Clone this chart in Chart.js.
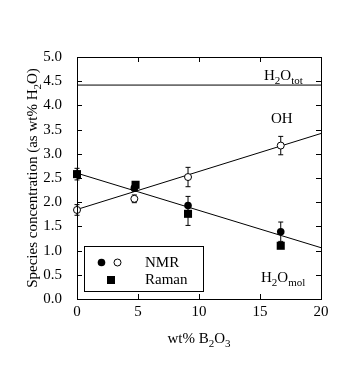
<!DOCTYPE html>
<html>
<head>
<meta charset="utf-8">
<script src="https://cdn.jsdelivr.net/npm/chart.js@4.4.0/dist/chart.umd.min.js"></script>
<style>
    html, body { margin: 0; padding: 0; background: #fff; }
</style>
</head>
<body>
<canvas id="grafico" width="361" height="374"></canvas>
<script>
// ---- dados ----
const nmrX = [0, 4.7, 9.1, 16.7];
const nmrMol = [2.58, 2.29, 1.93, 1.39];
const nmrMolErr = [0.12, 0.06, 0.19, 0.2];
const nmrOH = [1.84, 2.07, 2.52, 3.17];
const nmrOHErr = [0.11, 0.08, 0.2, 0.19];
const ramanX = [0, 4.8, 9.1, 16.7];
const ramanMol = [2.58, 2.36, 1.76, 1.1];
const ramanErr = [0, 0, 0.24, 0];
const fitX = [0, 20];
const fitOH = [1.85, 3.42];
const fitMol = [2.6, 1.06];
const totH2O = [4.42, 4.42];
const xTicks = [0, 5, 10, 15, 20];
const yTicks = [0, 0.5, 1, 1.5, 2, 2.5, 3, 3.5, 4, 4.5, 5];

const SERIF = "'Liberation Serif', 'Times New Roman', serif";
const pts = (xs, ys) => xs.map((x, i) => ({ x: x, y: ys[i] }));

// texto com subscritos: partes [texto, subscrito?]
function textoRico(ctx, partes, x, y, size) {
    let cx = x;
    partes.forEach(([t, sub]) => {
        ctx.font = (sub ? Math.round(size * 0.72) : size) + 'px ' + SERIF;
        ctx.fillText(t, cx, sub ? y + size * 0.28 : y);
        cx += ctx.measureText(t).width;
    });
    return cx - x;
}
function larguraRica(ctx, partes, size) {
    let w = 0;
    partes.forEach(([t, sub]) => {
        ctx.font = (sub ? Math.round(size * 0.72) : size) + 'px ' + SERIF;
        w += ctx.measureText(t).width;
    });
    return w;
}

function barras(ctx, sx, sy, xs, ys, errs) {
    xs.forEach((x, i) => {
        if (!errs[i]) return;
        const px = sx.getPixelForValue(x);
        const y1 = sy.getPixelForValue(ys[i] + errs[i]);
        const y2 = sy.getPixelForValue(ys[i] - errs[i]);
        ctx.beginPath();
        ctx.moveTo(px, y1); ctx.lineTo(px, y2);
        ctx.moveTo(px - 2.5, y1); ctx.lineTo(px + 2.5, y1);
        ctx.moveTo(px - 2.5, y2); ctx.lineTo(px + 2.5, y2);
        ctx.stroke();
    });
}

const pluginErros = {
    id: 'erros',
    beforeDatasetsDraw(chart) {
        const ctx = chart.ctx, sx = chart.scales.x, sy = chart.scales.y;
        ctx.save();
        ctx.strokeStyle = '#000';
        ctx.lineWidth = 1;
        barras(ctx, sx, sy, nmrX, nmrOH, nmrOHErr);
        barras(ctx, sx, sy, nmrX, nmrMol, nmrMolErr);
        // barra do Raman só para baixo
        ramanX.forEach((x, i) => {
            if (!ramanErr[i]) return;
            const px = sx.getPixelForValue(x);
            const y0 = sy.getPixelForValue(ramanMol[i]);
            const y2 = sy.getPixelForValue(ramanMol[i] - ramanErr[i]);
            ctx.beginPath();
            ctx.moveTo(px, y0); ctx.lineTo(px, y2);
            ctx.moveTo(px - 2.5, y2); ctx.lineTo(px + 2.5, y2);
            ctx.stroke();
        });
        ctx.restore();
    }
};

const pluginMoldura = {
    id: 'moldura',
    afterDraw(chart) {
        const ctx = chart.ctx, a = chart.chartArea;
        const sx = chart.scales.x, sy = chart.scales.y;
        ctx.save();
        ctx.strokeStyle = '#000';
        ctx.fillStyle = '#000';
        ctx.lineWidth = 1;
        ctx.strokeRect(Math.round(a.left) + 0.5, Math.round(a.top) + 0.5,
            Math.round(a.right - a.left), Math.round(a.bottom - a.top));

        // ticks para dentro
        ctx.beginPath();
        xTicks.forEach((v) => {
            const px = Math.round(sx.getPixelForValue(v)) + 0.5;
            ctx.moveTo(px, a.bottom); ctx.lineTo(px, a.bottom - 5);
            ctx.moveTo(px, a.top); ctx.lineTo(px, a.top + 5);
        });
        yTicks.forEach((v) => {
            const py = Math.round(sy.getPixelForValue(v)) + 0.5;
            ctx.moveTo(a.left, py); ctx.lineTo(a.left + 5, py);
            ctx.moveTo(a.right, py); ctx.lineTo(a.right - 5, py);
        });
        ctx.stroke();

        // títulos dos eixos
        ctx.textBaseline = 'alphabetic';
        const tx = [['wt% B', false], ['2', true], ['O', false], ['3', true]];
        const wx = larguraRica(ctx, tx, 15);
        textoRico(ctx, tx, (a.left + a.right) / 2 - wx / 2, 343, 15);

        const ty = [['Species concentration (as wt% H', false], ['2', true], ['O)', false]];
        const wy = larguraRica(ctx, ty, 15);
        ctx.save();
        ctx.translate(37, (a.top + a.bottom) / 2);
        ctx.rotate(-Math.PI / 2);
        textoRico(ctx, ty, -wy / 2, 0, 15);
        ctx.restore();

        // rótulos das curvas
        textoRico(ctx, [['H', false], ['2', true], ['O', false], ['tot', true]], 264, 80, 15);
        textoRico(ctx, [['OH', false]], 271, 123, 15);
        textoRico(ctx, [['H', false], ['2', true], ['O', false], ['mol', true]], 261, 282, 15);

        // legenda
        ctx.fillStyle = '#fff';
        ctx.fillRect(84.5, 246.5, 119, 45);
        ctx.strokeRect(84.5, 246.5, 119, 45);
        ctx.fillStyle = '#000';
        ctx.beginPath(); ctx.arc(101.5, 262.5, 3.8, 0, Math.PI * 2); ctx.fill();
        ctx.fillStyle = '#fff';
        ctx.beginPath(); ctx.arc(117.5, 262.5, 3.5, 0, Math.PI * 2); ctx.fill(); ctx.stroke();
        ctx.fillStyle = '#000';
        ctx.fillRect(107, 276, 8, 8);
        ctx.textBaseline = 'middle';
        textoRico(ctx, [['NMR', false]], 145, 263, 15);
        textoRico(ctx, [['Raman', false]], 145, 280, 15);
        ctx.restore();
    }
};

new Chart(document.getElementById('grafico'), {
    type: 'scatter',
    data: {
        datasets: [
            {
                label: 'OH NMR',
                data: pts(nmrX, nmrOH),
                pointStyle: 'circle',
                pointRadius: 3.5,
                backgroundColor: '#fff',
                borderColor: '#000',
                borderWidth: 1,
                clip: false,
                order: 1,
            },
            {
                label: 'Raman',
                data: pts(ramanX, ramanMol),
                pointStyle: 'rect',
                pointRadius: 5.7,
                backgroundColor: '#000',
                borderColor: '#000',
                borderWidth: 0,
                clip: false,
                order: 2,
            },
            {
                label: 'H2Omol NMR',
                data: pts(nmrX, nmrMol),
                pointStyle: 'circle',
                pointRadius: 3.8,
                backgroundColor: '#000',
                borderColor: '#000',
                borderWidth: 0,
                clip: false,
                order: 3,
            },
            {
                type: 'line',
                label: 'ajuste OH',
                data: pts(fitX, fitOH),
                borderColor: '#000',
                borderWidth: 1,
                pointRadius: 0,
                order: 10,
            },
            {
                type: 'line',
                label: 'ajuste mol',
                data: pts(fitX, fitMol),
                borderColor: '#000',
                borderWidth: 1,
                pointRadius: 0,
                order: 10,
            },
            {
                type: 'line',
                label: 'total',
                data: pts(fitX, totH2O),
                borderColor: '#000',
                borderWidth: 1,
                pointRadius: 0,
                order: 10,
            },
        ],
    },
    options: {
        responsive: false,
        animation: false,
        layout: { padding: { top: 57, right: 40, left: 0, bottom: 0 } },
        plugins: { legend: { display: false }, tooltip: { enabled: false } },
        scales: {
            x: {
                type: 'linear',
                min: 0,
                max: 20,
                afterFit: (s) => { s.height = 75; },
                afterBuildTicks: (s) => { s.ticks = xTicks.map((v) => ({ value: v })); },
                grid: { display: false },
                border: { display: false },
                ticks: { color: '#000', padding: -4, font: { family: SERIF, size: 15 } },
            },
            y: {
                type: 'linear',
                min: 0,
                max: 5,
                afterFit: (s) => { s.width = 77; },
                afterBuildTicks: (s) => { s.ticks = yTicks.map((v) => ({ value: v })); },
                grid: { display: false },
                border: { display: false },
                ticks: {
                    color: '#000',
                    padding: 7,
                    font: { family: SERIF, size: 15 },
                    callback: (v) => Number(v).toFixed(1),
                },
            },
        },
    },
    plugins: [pluginErros, pluginMoldura],
});
</script>
</body>
</html>
